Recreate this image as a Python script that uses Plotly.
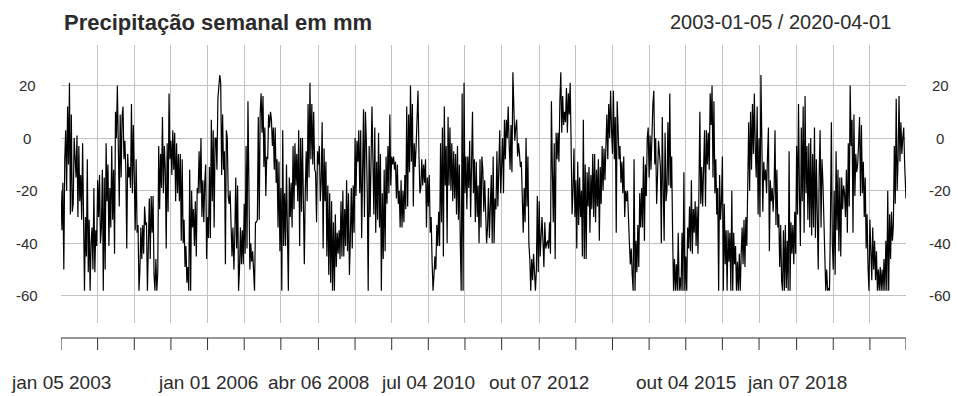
import bisect
import pandas as pd
import plotly.graph_objects as go

# Weekly precipitation (mm, deviation from the mean), one value per week
weekly_mm = [
    # 2003 - 2004
    -20, -35, -17, -50, -8, 3, -20, 12, -10, 21, -29, 9, -28, -25, 0, -8, -15, 1, -30, -3,
    -24, -14, -31, -2, -36, -58, -30, -45, -8, -51, -31, -58, -40, -34, -50, -19, -51, -35, -41, -16,
    -30, -14, -40, -34, -12, -58, -15, -50, -2, -24, -10, -41, -19, -34, -3, -31, -12, -44, 10, 0,
    20, -3, -26, 9, -15, 8, 12, -8, -1, -12, -42, -6, -15, -11, -19, 13, -21, 5, -21, -35,
    -8, -36, -33, -58, -50, -34, -46, -33, -44,
    # 2004 - 2006
    -26, -33, -32, -58, -37, -23, -46, -22, -36, -22,
    -52, -58, -46, -58, -51, -3, -27, -6, -19, 8,
    -21, -3, -12, -42, -2, -28, 17, -8, -1, -14,
    3, -12, 2, -24, -2, -21, -6, -24, -6, -39,
    -8, -40, -31, -49, -41, -55, -49, -58, -12, -58,
    -20, -34, -27, -41, -24, -45, -19, -21, -5, -21,
    0, -30, -16, -32, -17, -10, -46, -30, -38, -11,
    -38, 7, -24, 3, -34, 0, 0, -12, 15, 21,
    24, 21, -14, 9, -12, -5, -48, 3, 0, -22, -25,
    # 2006 - 2008
    -20, -33, -45, -34, -50, -37, -15, -42, -18, -58, -50,
    -34, -48, -35, -48, -25, -44, -3, -42, 14, -15, -50,
    -40, -47, -43, -51, -58, -32, -32, -31, 8, -31, 9,
    17, 2, 16, -11, 4, -22, -7, -8, 9, 4, 10,
    7, -3, 4, -12, 4, -17, -8, -34, -9, -43,
    -19, -58, 3, -41, -21, -41, -10, -36, -58, -15, -30,
    -17, -34, -3, -27, -2, -18, -6, -24, 3, -41, 0,
    -28, 0, -37, -48, -20, -5, -24, 13, -15, 21, -8,
    13, -10, 10, -12, -13,
    # 2008 - 2010
    -32, -5, -10, -3, -24, -16, 6, -42, -4, -24,
    -9, -45, -18, -52, -21, -55, -24, -58, -32, -58, -29,
    -49, -36, -44, -35, -46, -24, -45, -20, -45, -27, -41,
    -16, -43, -21, -52, -38, -19, -42, -18, -36, 0, -22,
    -1, -9, 3, -21, 3, -38, -8, 11, -30, 10,
    -1, -21, -58, -3, -30, 4, 12, -8, -29, 4, -36,
    -9, -31, 2, -34, -6, -58, -21, -46, -12, -43, -7,
    -25, -3, -21, 9, -18, -7, -10, -7, -12, -9, -23,
    -10, -25, -20, -34, -16,
    # 2010 - 2011
    -34, -20, -32, -14, -27, 12, -26, 9, -13, 20,
    -9, 13, -26, -2, -11, -3, 9, 18, -6, -21, -19,
    -8, -18, -10, -17, -8, -34, -15, -26, -14, -36, -30,
    -47, -58, -52, -45, -50, -33, -41, -28, -41, -2, -32,
    4, -45, 12, -18, -3, -40, 8, -18, 4, -20,
    -2, -24, -5, -23, -6, -29, -3, -31, -10, -40, -58,
    17, -58, 21, -21, -7, -27, -7, -19, -1, -30, -10,
    10, -21, -8, -32, -9, -30, -18, -40, -8, -34, -7,
    -12, -28, -16, -32, -40,
    # 2011 - 2013
    -34, -19, -38, -28, -14, -40, -7, -40, -23, -27,
    -5, -26, -9, 3, -21, -6, 0, -21, 7, -8,
    7, 0, 12, -2, -12, 5, -13, 25, 8, -1, 4,
    7, -7, -2, -6, -11, -9, -22, -36, -19, -32, 0,
    -26, -7, -40, -46, -58, -46, -54, -44, -52, -58, -50,
    -22, -51, -24, -45, -34, -30, -39, -49, -32, -42, -40,
    -39, -42, -32, -44, 14, -12, -32, -2, -46, 2, -8,
    2, -9, 14, 25, 2, 16, 5, 10, 6, 19, 2,
    17, 9, 21, -3, -29,
    # 2013 - 2015
    -20, -4, -30, -16, -42, -9, -33, -15, -30, -20,
    -45, 7, -46, -10, -46, -13, -26, -11, -36, -14,
    -27, -6, -30, -6, -32, -12, -26, -8, -39, -11, -25,
    -3, -20, -4, -16, 0, 9, -8, 13, 0, 18, 3,
    -6, 18, -8, 8, -36, 14, -2, -8, -3, -17, -9,
    -21, -7, -30, -20, -24, -20, -36, -40, -48, -42, -52,
    -58, -8, -58, -39, -51, -33, -49, -21, -34, -19, -34,
    -7, -39, -10, -22, 0, 4, -15, 1, -12, 5,
    13, 18, -10, 0, -25, -14,
    # 2015 - 2016
    -1, -6, -11, -40, 8, -19, -39, 2, -24,
    -20, 6, -18, 17, -19, -7, -36, -58, -46, -58,
    -48, -58, -36, -58, -53, -58, -36, -58, -13, -58, -45,
    -58, -34, -42, -26, -43, -16, -44, -27, -36, -24, -41,
    -26, -44, -21, 10, -25, -11, -26, -15, 3, -26,
    3, -10, 2, -12, 17, 5, 20, -15, 14, -21, -8,
    -29, -19, -58, -14, -31, -24, -7, -58, -25, -48, -35,
    -58, -35, -47, -36, -58, -20, -58, -36, -48, -41, -58,
    -47, -58, -44, -58, -44,
    # 2016 - 2018
    -34, -48, -31, -49, -30, -41, -20, 6, -20, 10,
    -12, 13, -6, 17, -4, -15, 12, -29, 0, -30, 24,
    -9, -28, -9, -16, -12, -21, -7, 4, -43, -16, -24,
    -19, -28, -20, 3, -33, -12, -34, -29, -49, -33, -54,
    -58, -35, -58, -33, -57, -39, -58, -5, -58, -32,
    -44, -33, -48, -28, -44, -3, -29, 13, -21, -41, 4,
    -24, 12, -36, 16, -21, -3, -31, -2, -34, 0, -37,
    -6, -34, 4, -38, -8, -30, -50, -14, 3, -34, -8,
    -17, -31, -46, -58, -50,
    # 2018 - 2020
    -58, -57, -58, -32, 6, -40, -50, -20, -52, -5,
    -35, -12, -43, -15, -45, -15, -27, -18, -21, -30,
    -12, -36, -2, -26, 20, -3, 7, -36, 9, -22,
    -6, -13, -10, -2, 8, -22, 5, -21, -9, -30,
    -15, -42, -29, -49, -58, -31, -49, -54, -34, -50,
    -39, -54, -43, -58, -50, -58, -49, -58, -50, -58,
    -46, -58, -39, -58, -20, -58, -29, -46, -28, -39,
    -33, -3, -25, 15, -20, -8, 16, -9, 6, -6, 0, 4, -10, -23,
]

first_date = "2003-01-05"
last_date = "2020-04-01"
y_ticks = [20, 0, -20, -40, -60]
tick_months = 9                      # months between x-axis ticks
labelled_ticks = [0, 4, 7, 10, 13, 17, 20]
month_abbr = ["jan", "fev", "mar", "abr", "mai", "jun",
              "jul", "ago", "set", "out", "nov", "dez"]
title_text = "Precipitação semanal em mm"

# weekly Sundays, the final observation closes on the last day
dates = list(pd.date_range(first_date, periods=len(weekly_mm) - 1, freq="7D"))
dates.append(pd.Timestamp(last_date))

# each tick sits on the first observation of a 9-month period
period_starts = pd.date_range(dates[0].replace(day=1), dates[-1],
                              freq=f"{tick_months}MS")
tick_dates = []
for start in period_starts:
    k = bisect.bisect_left(dates, start)
    if k < len(dates):
        tick_dates.append(dates[k])

FONT = "Liberation Sans, Arial, sans-serif"
GRID = "#c2c2c2"
TEXT = "#2b2b2b"

W, H = 958, 396
ML, MR, MT, MB = 61, 52, 45, 73
plot_w = W - ML - MR
plot_h = H - MT - MB


def py(pixel_y):
    """page pixel row -> paper y"""
    return (H - MB - pixel_y) / plot_h


def px(pixel_x):
    """page pixel column -> paper x"""
    return (pixel_x - ML) / plot_w


fig = go.Figure()
fig.add_trace(go.Scatter(
    x=dates, y=weekly_mm, mode="lines",
    line=dict(color="black", width=1.2),
    hoverinfo="x+y", showlegend=False,
))

annotations = []
# y labels on both sides
for v in y_ticks:
    for xp in (px(27), px(940)):
        annotations.append(dict(
            x=xp, xref="paper", y=v, yref="y", text=str(v), showarrow=False,
            xanchor="center", yanchor="middle",
            font=dict(family=FONT, size=15, color=TEXT),
        ))

# date labels under the axis
for i in labelled_ticks:
    d = tick_dates[i]
    label = f"{month_abbr[d.month - 1]} {d.day:02d} {d.year}"
    annotations.append(dict(
        x=d, xref="x", y=py(382), yref="paper", text=label, showarrow=False,
        xanchor="center", yanchor="middle",
        font=dict(family=FONT, size=19, color=TEXT),
    ))

annotations.append(dict(
    x=px(62), xref="paper", y=py(22), yref="paper",
    text=f"<b>{title_text}</b>", showarrow=False,
    xanchor="left", yanchor="middle",
    font=dict(family=FONT, size=22, color=TEXT),
))
annotations.append(dict(
    x=px(893), xref="paper", y=py(22), yref="paper",
    text=f"{dates[0]:%Y-%m-%d} / {dates[-1]:%Y-%m-%d}", showarrow=False,
    xanchor="right", yanchor="middle",
    font=dict(family=FONT, size=20, color=TEXT),
))

# bottom axis line with downward ticks
shapes = [dict(
    type="line", xref="x", yref="paper",
    x0=tick_dates[0], x1=tick_dates[-1], y0=py(338), y1=py(338),
    line=dict(color="#303030", width=1),
)]
for d in tick_dates:
    shapes.append(dict(
        type="line", xref="x", yref="paper",
        x0=d, x1=d, y0=py(338), y1=py(350),
        line=dict(color="#303030", width=1),
    ))

fig.update_layout(
    width=W, height=H,
    margin=dict(l=ML, r=MR, t=MT, b=MB, pad=0),
    paper_bgcolor="white", plot_bgcolor="white",
    font=dict(family=FONT, color=TEXT),
    annotations=annotations, shapes=shapes,
    xaxis=dict(
        type="date", range=[dates[0], dates[-1]],
        tickmode="array", tickvals=tick_dates, showticklabels=False,
        showgrid=True, gridcolor=GRID, gridwidth=1.3,
        zeroline=False, showline=False, ticks="",
    ),
    yaxis=dict(
        range=[-70.3, 35.4],
        tickmode="array", tickvals=y_ticks, showticklabels=False,
        showgrid=True, gridcolor=GRID, gridwidth=1.3,
        zeroline=False, showline=False, ticks="",
    ),
)

fig.write_html("out.html")
